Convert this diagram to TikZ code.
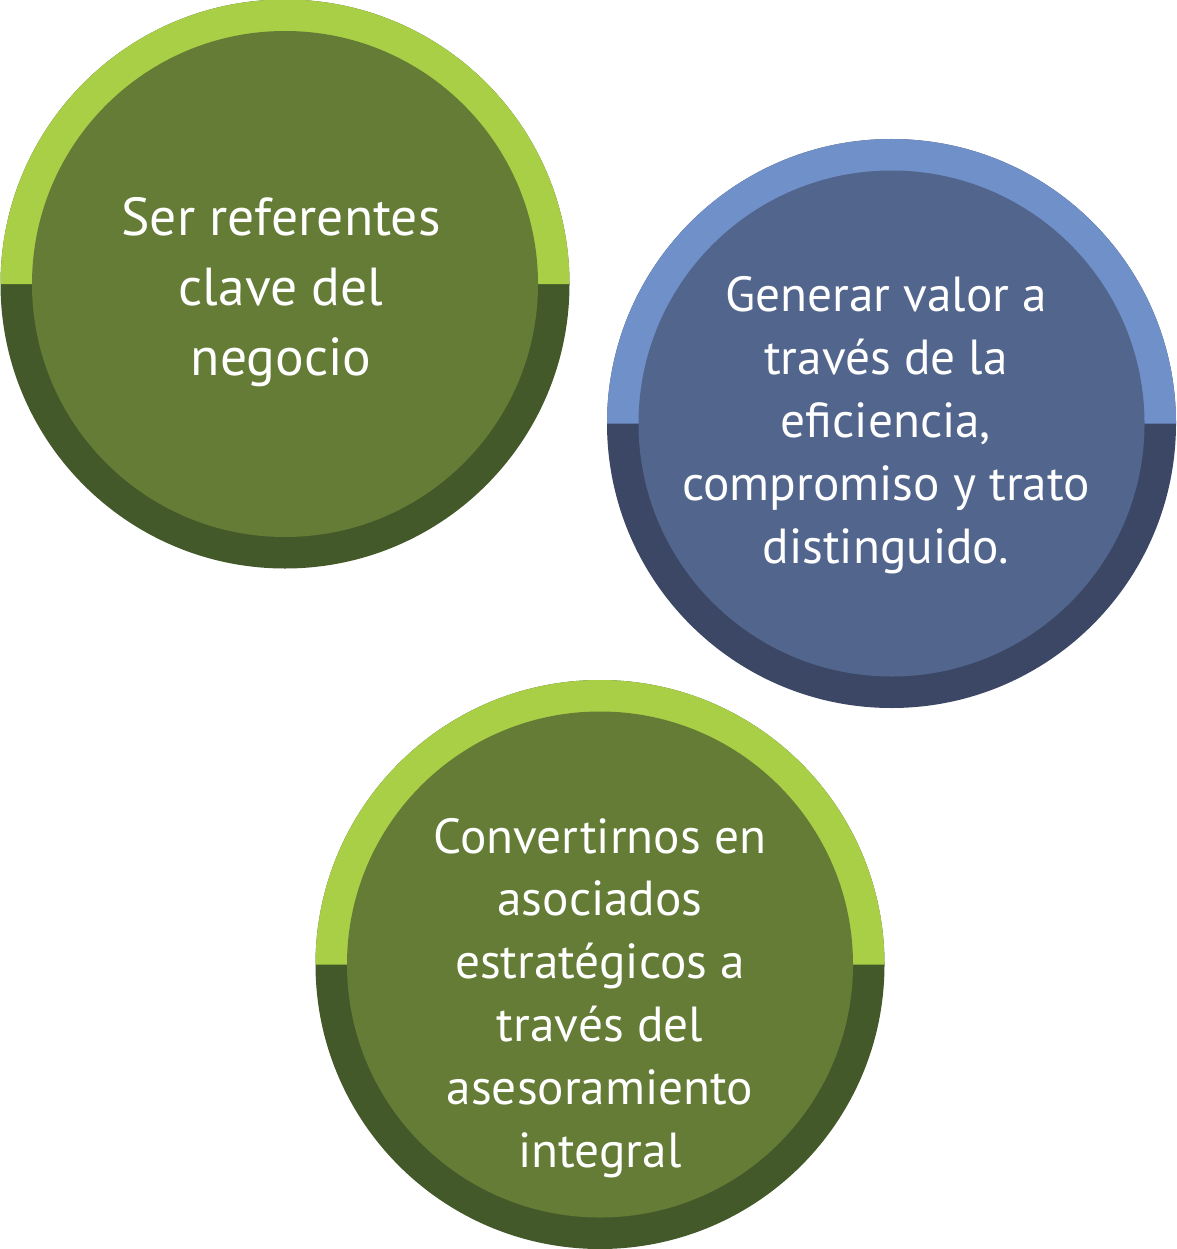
\documentclass[tikz,border=0pt]{standalone}
\usepackage{fontspec}
\setmainfont{PT Sans}
\definecolor{glight}{HTML}{A9CF46}
\definecolor{gmid}{HTML}{647C35}
\definecolor{gdark}{HTML}{44592A}
\definecolor{blight}{HTML}{7090C9}
\definecolor{bmid}{HTML}{52658D}
\definecolor{bdark}{HTML}{3B4764}
\tikzset{
  circtext/.style={text=white, align=center, inner sep=0pt, anchor=base},
}
\newcommand{\ringcircle}[6]{% cx, cy, light, dark, mid, name
  \fill[#4] (#1,#2) circle[radius=284.5];
  \fill[#3] (#1-284.5,#2) arc[start angle=180, end angle=360, radius=284.5] -- cycle;
  \fill[#5] (#1,#2) circle[radius=253];
  \coordinate (#6) at (#1,#2);
}
\begin{document}
\begin{tikzpicture}[x=1pt,y=-1pt]
\useasboundingbox (0,0) rectangle (1176,1249);
\ringcircle{285}{284}{glight}{gdark}{gmid}{c1}
\ringcircle{891.5}{423.5}{blight}{bdark}{bmid}{c2}
\ringcircle{600}{964.5}{glight}{gdark}{gmid}{c3}
\node[circtext, font=\fontsize{53.5}{70}\selectfont] (t1) at (281,375)
  {Ser referentes\\clave del\\negocio};
\node[circtext, font=\fontsize{49.3}{62.8}\selectfont] (t2) at (886,563)
  {Generar valor a\\través de la\\eficiencia,\\compromiso y trato\\distinguido.};
\node[circtext, font=\fontsize{49.3}{62.8}\selectfont] (t3) at (600,1167)
  {Convertirnos en\\asociados\\estratégicos a\\través del\\asesoramiento\\integral};
\end{tikzpicture}
\end{document}
